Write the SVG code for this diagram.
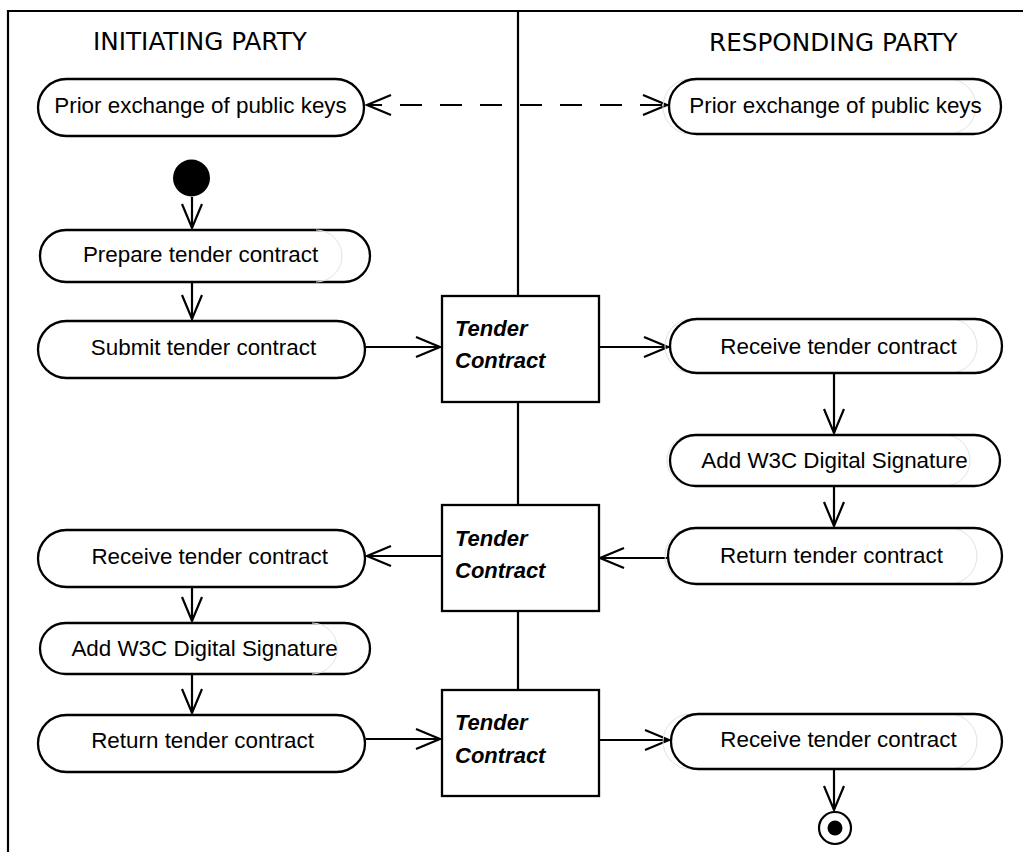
<svg xmlns="http://www.w3.org/2000/svg" width="1023" height="852" viewBox="0 0 1023 852">
  <style>
    .frame { fill: none; stroke: #000; stroke-width: 2.2; }
    .pill { fill: #fff; stroke: #000; stroke-width: 2.3; }
    .ghost { fill: none; stroke: #e2e2e2; stroke-width: 1; }
    .box { fill: #fff; stroke: #000; stroke-width: 2.3; }
    .title { font-family: "DejaVu Sans", sans-serif; font-size: 24.7px; fill: #000; }
    .label { font-family: "Liberation Sans", Arial, sans-serif; font-size: 22.4px; fill: #000; text-anchor: middle; }
    .obj { font-family: "Liberation Sans", Arial, sans-serif; font-size: 22px; font-weight: bold; font-style: italic; fill: #000; }
    .edge { fill: none; stroke: #000; stroke-width: 2.2; }
    .dash { stroke-dasharray: 22 18; stroke-dashoffset: 7; }
  </style>
  <defs>
    <marker id="arrow" markerUnits="userSpaceOnUse" markerWidth="30" markerHeight="26" refX="25" refY="11" orient="auto-start-reverse">
      <path d="M1,1 L25,11 L1,21" fill="none" stroke="#000" stroke-width="2.2"/>
    </marker>
  </defs>

  <!-- swimlane frame -->
  <g id="swimlanes">
    <path class="frame" d="M8,860 V11 H1030"/>
    <line class="frame" x1="518" y1="11" x2="518" y2="689"/>
    <text class="title" x="93" y="49.5">INITIATING PARTY</text>
    <text class="title" x="709" y="51">RESPONDING PARTY</text>
  </g>

  <!-- connectors -->
  <g id="connectors">
    <path class="edge dash" d="M367,105 H667" marker-start="url(#arrow)" marker-end="url(#arrow)"/>
    <path class="edge" d="M192,197 V228" marker-end="url(#arrow)"/>
    <path class="edge" d="M192,283 V319" marker-end="url(#arrow)"/>
    <path class="edge" d="M366,347 H440" marker-end="url(#arrow)"/>
    <path class="edge" d="M600,347 H668" marker-end="url(#arrow)"/>
    <path class="edge" d="M834,374 V433" marker-end="url(#arrow)"/>
    <path class="edge" d="M834,487 V526" marker-end="url(#arrow)"/>
    <path class="edge" d="M667,558 H600" marker-end="url(#arrow)"/>
    <path class="edge" d="M441,556 H367" marker-end="url(#arrow)"/>
    <path class="edge" d="M192,588 V621" marker-end="url(#arrow)"/>
    <path class="edge" d="M192,675 V713" marker-end="url(#arrow)"/>
    <path class="edge" d="M366,739 H440" marker-end="url(#arrow)"/>
    <path class="edge" d="M600,740 H669" marker-end="url(#arrow)"/>
    <path class="edge" d="M834,770 V810" marker-end="url(#arrow)"/>
  </g>

  <!-- initiating party nodes -->
  <g id="prior-keys-initiating">
    <rect class="pill" x="38" y="79" width="326" height="57" rx="28.5"/>
    <text class="label" x="200.5" y="113">Prior exchange of public keys</text>
  </g>
  <g id="start">
    <circle cx="191.5" cy="178" r="18.5" fill="#000"/>
  </g>
  <g id="prepare">
    <rect class="pill" x="40" y="230" width="330" height="52" rx="26"/>
    <path class="ghost" d="M316,230 A26,26 0 0 1 316,282"/>
    <text class="label" x="200.5" y="262">Prepare tender contract</text>
  </g>
  <g id="submit">
    <rect class="pill" x="38" y="321" width="327" height="57" rx="28.5"/>
    <text class="label" x="203.5" y="355">Submit tender contract</text>
  </g>
  <g id="receive-initiating">
    <rect class="pill" x="38" y="530" width="327" height="57" rx="28.5"/>
    <text class="label" x="209.7" y="564">Receive tender contract</text>
  </g>
  <g id="sign-initiating">
    <rect class="pill" x="40" y="623" width="330" height="51" rx="25.5"/>
    <path class="ghost" d="M312,623 A25.5,25.5 0 0 1 312,674"/>
    <text class="label" x="204.6" y="656">Add W3C Digital Signature</text>
  </g>
  <g id="return-initiating">
    <rect class="pill" x="38" y="715" width="327" height="57" rx="28.5"/>
    <text class="label" x="202.6" y="748">Return tender contract</text>
  </g>

  <!-- object nodes -->
  <g id="tender-contract-1">
    <rect class="box" x="442" y="296" width="157" height="106"/>
    <text class="obj" x="455" y="336">Tender</text>
    <text class="obj" x="455" y="368">Contract</text>
  </g>
  <g id="tender-contract-2">
    <rect class="box" x="442" y="505" width="157" height="106"/>
    <text class="obj" x="455" y="546">Tender</text>
    <text class="obj" x="455" y="578">Contract</text>
  </g>
  <g id="tender-contract-3">
    <rect class="box" x="442" y="690" width="157" height="106"/>
    <text class="obj" x="455" y="730">Tender</text>
    <text class="obj" x="455" y="763">Contract</text>
  </g>

  <!-- responding party nodes -->
  <g id="prior-keys-responding">
    <rect class="ghost" x="663" y="79" width="313" height="55" rx="27.5"/>
    <rect class="pill" x="669" y="79" width="332" height="55" rx="27.5" style="fill:none"/>
    <text class="label" x="835.5" y="113">Prior exchange of public keys</text>
  </g>
  <g id="receive-responding">
    <rect class="ghost" x="665" y="319" width="312" height="54" rx="27"/>
    <rect class="pill" x="670" y="319" width="332" height="54" rx="27" style="fill:none"/>
    <text class="label" x="838.5" y="353.5">Receive tender contract</text>
  </g>
  <g id="sign-responding">
    <rect class="ghost" x="667" y="435" width="303" height="51" rx="25.5"/>
    <rect class="pill" x="670" y="435" width="330" height="51" rx="25.5" style="fill:none"/>
    <text class="label" x="834.5" y="468">Add W3C Digital Signature</text>
  </g>
  <g id="return-responding">
    <rect class="ghost" x="665" y="528" width="312" height="56" rx="28"/>
    <rect class="pill" x="668" y="528" width="334" height="56" rx="28" style="fill:none"/>
    <text class="label" x="831.5" y="563">Return tender contract</text>
  </g>
  <g id="receive-responding-final">
    <rect class="ghost" x="663" y="714" width="314" height="55" rx="27.5"/>
    <rect class="pill" x="671" y="714" width="331" height="55" rx="27.5" style="fill:none"/>
    <text class="label" x="838.5" y="747">Receive tender contract</text>
  </g>
  <g id="end">
    <circle cx="835" cy="828" r="16" fill="#fff" stroke="#000" stroke-width="2.2"/>
    <circle cx="835" cy="828" r="7.5" fill="#000"/>
  </g>
</svg>
